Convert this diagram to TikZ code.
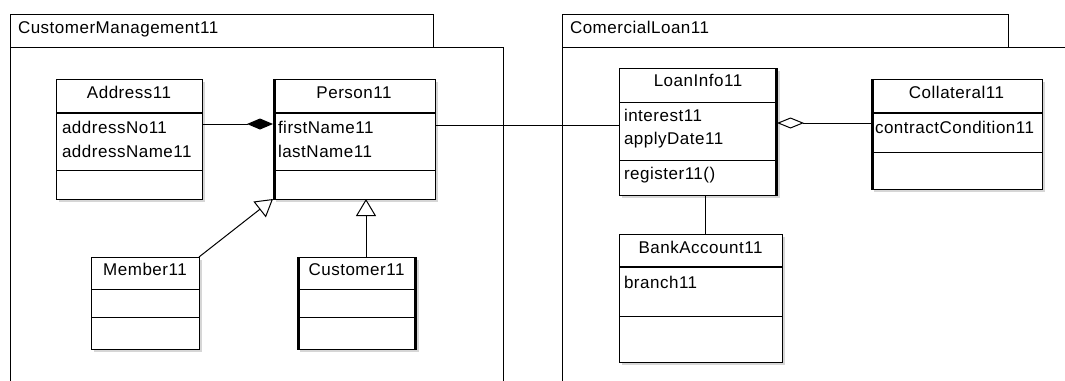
\documentclass[tikz,border=0pt]{standalone}
\usepackage{fontspec}
\setmainfont[LetterSpace=3]{Liberation Sans}
\usetikzlibrary{arrows.meta,shadows}

\tikzset{
  umlfont/.style={font=\fontsize{17}{20}\selectfont, inner sep=0pt, outer sep=0pt},
  pkg/.style={draw, line width=1pt},
  classbox/.style={draw, fill=white, line width=1pt, inner sep=0pt, outer sep=0pt,
    anchor=north west,
    drop shadow={shadow xshift=2.5pt, shadow yshift=-2.5pt, fill=black!16, opacity=1}},
  title/.style={umlfont, anchor=base},
  member/.style={umlfont, anchor=base west},
  thinrule/.style={line width=1pt},
  thickrule/.style={line width=2pt},
  thickside/.style={line width=3pt},
  assoc/.style={draw, line width=1pt},
  composition/.style={assoc, -{Diamond[length=26pt 0 0, width=11pt 0 0]}},
  aggregation/.style={assoc, -{Diamond[open, length=27pt 0 0, width=11pt 0 0]}},
  generalization/.style={assoc, -{Triangle[open, length=17pt 0 0, width=20pt 0 0]}},
}

% compartment rule, #3 pt below the top edge of class #2
\newcommand\classrule[3][thinrule]{%
  \draw[#1] ([yshift=-#3pt]#2.north west) -- ([yshift=-#3pt]#2.north east);}

\begin{document}
\begin{tikzpicture}[x=1pt, y=-1pt]
\useasboundingbox (0,0) rectangle (1065,380);
\clip (0,0) rectangle (1065,380);
\fill[white] (0,0) rectangle (1065,380);

% ---------- packages ----------
\draw[pkg] (10,14) rectangle (433,47);
\draw[pkg] (10,400) -- (10,47) -- (503,47) -- (503,400);
\node[umlfont, anchor=base west] (pkgCM) at (18,33) {CustomerManagement11};

\draw[pkg] (562,14) rectangle (1008,47);
\draw[pkg] (562,400) -- (562,47) -- (1080,47);
\node[umlfont, anchor=base west] (pkgCL) at (570,33) {ComercialLoan11};

% ---------- classes of CustomerManagement11 ----------
\node[classbox, minimum width=146pt, minimum height=120pt] (Address) at (56,79) {};
\classrule[thickrule]{Address}{34}
\classrule{Address}{91}
\node[title] (AddressT) at ([yshift=-19pt]Address.north) {Address11};
\node[member] (AddressA1) at ([xshift=6pt,yshift=-54pt]Address.north west) {addressNo11};
\node[member] (AddressA2) at ([xshift=6pt,yshift=-78pt]Address.north west) {addressName11};

\node[classbox, minimum width=162pt, minimum height=120pt] (Person) at (273,79) {};
\classrule[thickrule]{Person}{34}
\classrule{Person}{91}
\draw[thickside] ([xshift=1pt]Person.north west) -- ([xshift=1pt]Person.south west);
\node[title] (PersonT) at ([yshift=-19pt]Person.north) {Person11};
\node[member] (PersonA1) at ([xshift=5pt,yshift=-54pt]Person.north west) {firstName11};
\node[member] (PersonA2) at ([xshift=5pt,yshift=-78pt]Person.north west) {lastName11};

\node[classbox, minimum width=108pt, minimum height=92pt] (Member) at (91,257) {};
\classrule{Member}{32}
\classrule{Member}{60}
\node[title] (MemberT) at ([yshift=-18pt]Member.north) {Member11};

\node[classbox, minimum width=119pt, minimum height=92pt] (Customer) at (297,257) {};
\classrule{Customer}{32}
\classrule{Customer}{60}
\draw[thickside] ([xshift=1pt]Customer.north west) -- ([xshift=1pt]Customer.south west);
\draw[thickside] ([xshift=-1pt]Customer.north east) -- ([xshift=-1pt]Customer.south east);
\node[title] (CustomerT) at ([yshift=-18pt]Customer.north) {Customer11};

% ---------- classes of ComercialLoan11 ----------
\node[classbox, minimum width=158pt, minimum height=127pt] (LoanInfo) at (619,68) {};
\classrule{LoanInfo}{34}
\classrule{LoanInfo}{92}
\draw[thickside] ([xshift=-1pt]LoanInfo.north east) -- ([xshift=-1pt]LoanInfo.south east);
\node[title] (LoanInfoT) at ([yshift=-18pt]LoanInfo.north) {LoanInfo11};
\node[member] (LoanInfoA1) at ([xshift=5pt,yshift=-53pt]LoanInfo.north west) {interest11};
\node[member] (LoanInfoA2) at ([xshift=5pt,yshift=-76pt]LoanInfo.north west) {applyDate11};
\node[member] (LoanInfoO1) at ([xshift=5pt,yshift=-111pt]LoanInfo.north west) {register11()};

\node[classbox, minimum width=171pt, minimum height=110pt] (Collateral) at (871,79) {};
\classrule[thickrule]{Collateral}{34}
\classrule{Collateral}{73}
\draw[thickside] ([xshift=1pt]Collateral.north west) -- ([xshift=1pt]Collateral.south west);
\node[title] (CollateralT) at ([yshift=-19pt]Collateral.north) {Collateral11};
\node[member] (CollateralA1) at ([xshift=4pt,yshift=-54pt]Collateral.north west) {contractCondition11};

\node[classbox, minimum width=163pt, minimum height=128pt] (BankAccount) at (619,234) {};
\classrule[thickrule]{BankAccount}{33}
\classrule{BankAccount}{82}
\node[title] (BankAccountT) at ([yshift=-19pt]BankAccount.north) {BankAccount11};
\node[member] (BankAccountA1) at ([xshift=5pt,yshift=-54pt]BankAccount.north west) {branch11};

% ---------- relationships ----------
\coordinate (compY) at (0,124);
\coordinate (assocY) at (0,125);
\coordinate (aggY) at (0,123);
\coordinate (genX) at (366,0);
\coordinate (bankX) at (705,0);

\draw[composition] (Address.east |- compY) -- (Person.west |- compY);
\draw[assoc] (Person.east |- assocY) -- (LoanInfo.west |- assocY);
\draw[aggregation] (Collateral.west |- aggY) -- (LoanInfo.east |- aggY);
\draw[assoc] (LoanInfo.south -| bankX) -- (BankAccount.north -| bankX);
\draw[generalization] (Customer.north -| genX) -- (Person.south -| genX);
\draw[generalization] (Member.north east) -- (Person.south west);
\end{tikzpicture}
\end{document}
